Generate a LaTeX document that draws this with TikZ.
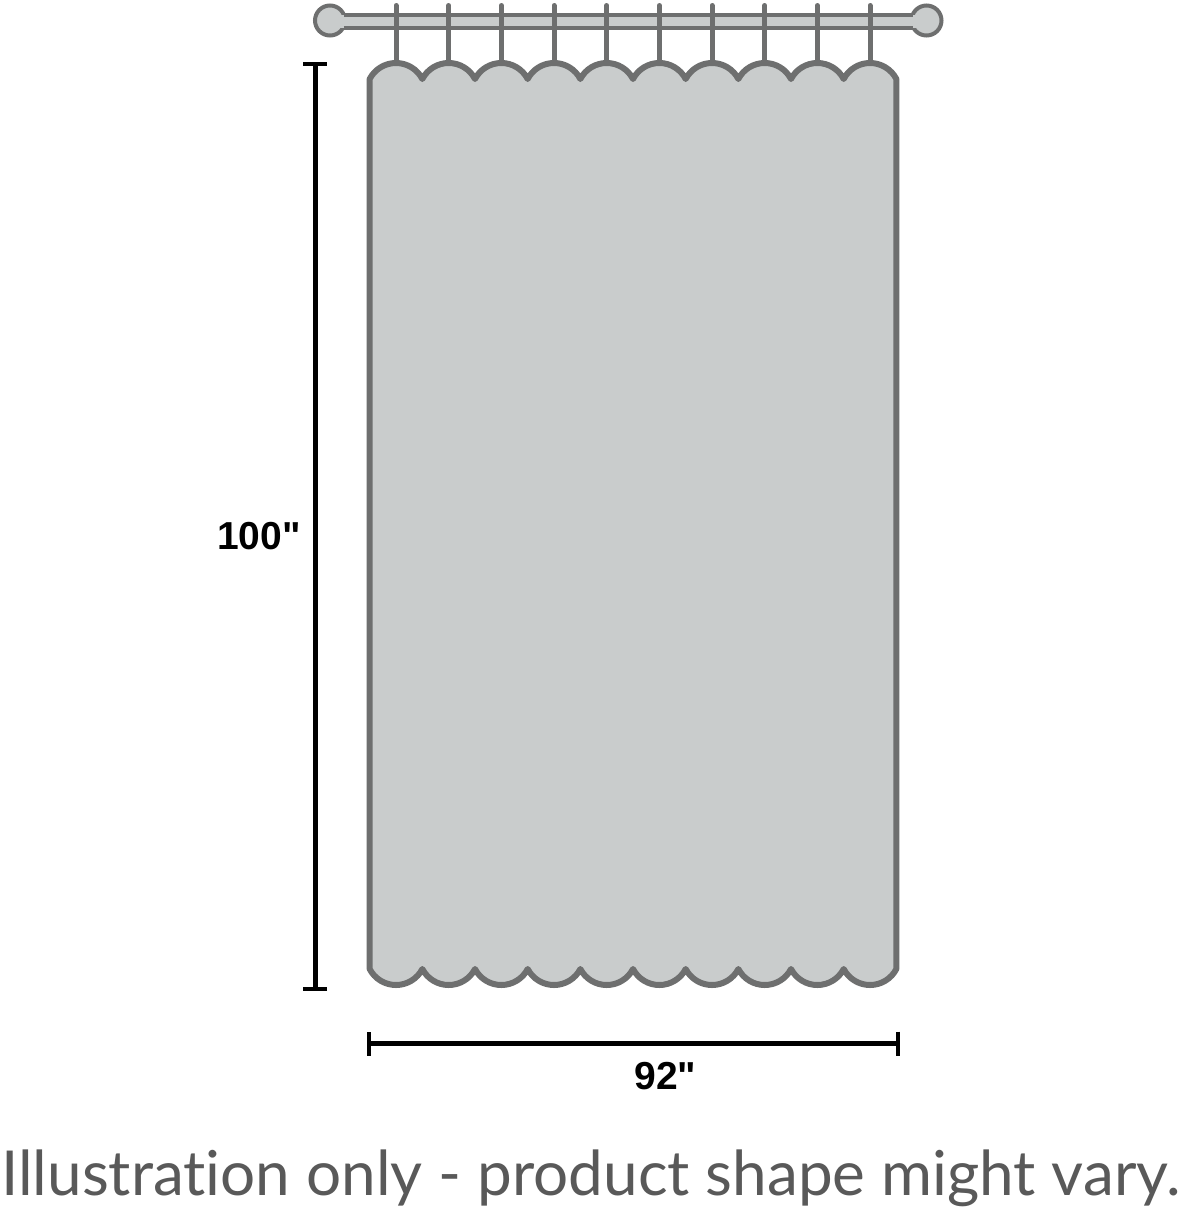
\documentclass[tikz,border=0pt]{standalone}
\usepackage{fontspec}
\setmainfont{Liberation Sans}[Ligatures=TeXOff]
\newfontfamily\notefont{Lato}[Ligatures={NoCommon,TeXOff}]
\usetikzlibrary{arrows.meta}
\definecolor{cloth}{HTML}{C9CCCC}
\definecolor{seam}{HTML}{6E6F6F}
\definecolor{notegray}{HTML}{595959}
\begin{document}
\begin{tikzpicture}[x=1pt,y=-1pt,
every node/.style={inner sep=0pt},
rod/.style={%
draw=seam,
line width=4pt
},
hook/.style={%
draw=seam,
line width=5pt,
line cap=round
},
curtain/.style={%
draw=seam,
fill=cloth,
line width=6pt,
line join=round
},
dim/.style={%
draw,
line width=5pt,
{Bar[width=24pt,line width=4pt]}-{Bar[width=24pt,line width=4pt]}
},
size/.style={%
font=\fontsize{39}{39}\selectfont\bfseries,
anchor=base
},
note/.style={%
font=\notefont\fontsize{62}{62}\selectfont,
text=notegray,
anchor=base
}]
\useasboundingbox[fill=white] (0,0) rectangle (1192,1210);
% rod with knobs
\draw[rod,fill=cloth] (330,20.5) circle[radius=15];
\draw[rod,fill=cloth] (926.5,20.5) circle[radius=15];
\fill[cloth] (338,14.7) rectangle (918,28);
\draw[rod] (343.8,14.7) -- (912.7,14.7);
\draw[rod] (343.8,28) -- (912.7,28);
\foreach \i in {0,...,9}{%
\draw[hook] ({396+52.67*\i},5.5) -- ({396+52.67*\i},63);
}
% curtain
\draw[curtain] (369.67,969) -- (369.67,79)
\foreach \i in {0,...,9}{
.. controls +(5.1,-9.8) and +(-11.1,0) .. ({396+52.67*\i},63)
.. controls +(11.1,0) and +(-5.1,-9.8) .. ({422.33+52.67*\i},79)}
-- (896.33,969)
\foreach \i in {9,...,0}{
.. controls +(-5.1,9.8) and +(11.1,0) .. ({396+52.67*\i},985)
.. controls +(-11.1,0) and +(5.1,9.8) .. ({369.67+52.67*\i},969)}
-- cycle;
% dimensions
\coordinate (htop) at (315,62);
\coordinate (hbot) at (315,990.5);
\coordinate (wleft) at (367,1043.5);
\coordinate (wright) at (900,1043.5);
\draw[dim] (htop) -- (hbot);
\draw[dim] (wleft) -- (wright);
\node[size] (height) at (259,549) {100"};
\node[size] (width) at (665.5,1089) {92"};
\node[note] (caption) at (591,1195) {Illustration only - product shape might vary.};
\end{tikzpicture}
\end{document}
